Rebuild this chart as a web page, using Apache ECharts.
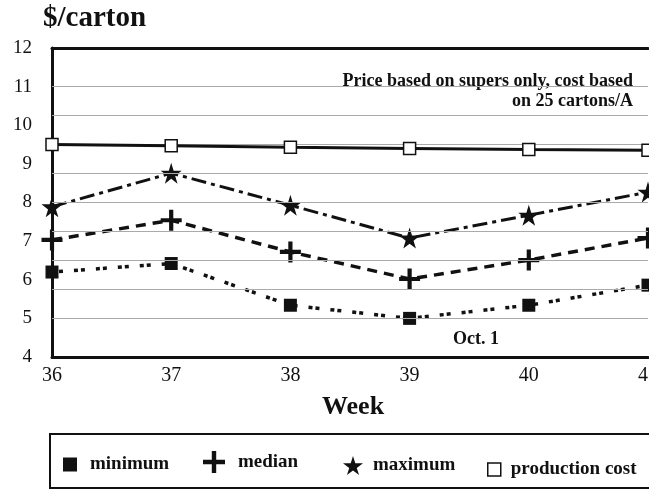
<!DOCTYPE html>
<html>
<head>
<meta charset="utf-8">
<script src="https://cdn.jsdelivr.net/npm/echarts@6/dist/echarts.min.js"></script>
<style>
html,body{margin:0;padding:0;background:#fff;}
#chart{width:649px;height:494px;}
</style>
</head>
<body>
<div id="chart"></div>
<script>
const weeks = ['36', '37', '38', '39', '40', '41'];
const minimum = [6.2, 6.42, 5.34, 5.0, 5.34, 5.86];
const median = [7.03, 7.54, 6.72, 6.02, 6.51, 7.08];
const maximum = [7.89, 8.76, 7.93, 7.08, 7.67, 8.27];
const productionCost = [9.5, 9.47, 9.43, 9.4, 9.37, 9.35];
const gridLevels = [5, 5.75, 6.5, 7.25, 8, 8.75, 9.5, 10.25, 11];
const yTicks = {min: 4, max: 12, interval: 1};

const SERIF = '"Liberation Serif", "Times New Roman", serif';
const INK = '#111';
const PLUS = 'path://M8,0h4v8h8v4h-8v8h-4v-8h-8v-4h8z';
const STAR = 'path://M50,0L61,35L98,35L68,57L79,91L50,70L21,91L32,57L2,35L39,35Z';

const chart = echarts.init(document.getElementById('chart'), null, {renderer: 'canvas'});

function legendFor(name, icon, left, top, w, h, pad, padTop, itemStyle) {
  return {
    data: [{name: name, icon: icon}],
    left: left, top: top, padding: 0,
    itemWidth: w, itemHeight: h,
    itemStyle: itemStyle,
    selectedMode: false,
    textStyle: {fontFamily: SERIF, fontWeight: 'bold', fontSize: 19, color: INK, padding: [padTop, 0, 0, pad]}
  };
}

const option = {
  backgroundColor: '#fff',
  animation: false,
  grid: {left: 52, right: 1, top: 48, bottom: 137, show: false, containLabel: false, outerBoundsMode: 'none'},
  xAxis: [{
    type: 'category', data: weeks, boundaryGap: false,
    axisLine: {show: true, lineStyle: {color: INK, width: 3}},
    axisTick: {show: false},
    splitLine: {show: false},
    axisLabel: {fontFamily: SERIF, fontSize: 20, color: INK, margin: 9}
  }, {
    type: 'category', data: weeks, boundaryGap: false, position: 'top',
    axisLine: {show: true, lineStyle: {color: INK, width: 3}},
    axisTick: {show: false}, axisLabel: {show: false}, splitLine: {show: false}
  }],
  yAxis: {
    type: 'value', min: yTicks.min, max: yTicks.max, interval: yTicks.interval,
    axisLine: {show: true, lineStyle: {color: INK, width: 3}},
    axisTick: {show: false},
    splitLine: {show: false},
    axisLabel: {fontFamily: SERIF, fontSize: 19, color: INK, margin: 20}
  },
  legend: [
    legendFor('minimum', 'rect', 63, 455, 14, 14, 8, 4, {color: INK}),
    legendFor('median', PLUS, 203, 451, 22, 22, 8, 7, {color: INK}),
    legendFor('maximum', STAR, 343, 456, 20, 20, 5, 7, {color: INK}),
    legendFor('production cost', 'rect', 487, 460, 13, 13, 5, 4, {color: '#fff', borderColor: INK, borderWidth: 1.5})
  ],
  graphic: [
    {type: 'text', left: 43, top: 4, style: {text: '$/carton', font: 'bold 29px ' + SERIF, fill: INK}},
    {type: 'text', left: 322, top: 394, style: {text: 'Week', font: 'bold 26px ' + SERIF, fill: INK}},
    {type: 'text', right: 16, top: 72, style: {text: 'Price based on supers only, cost based', font: 'bold 18px ' + SERIF, fill: INK}},
    {type: 'text', right: 16, top: 92, style: {text: 'on 25 cartons/A', font: 'bold 18px ' + SERIF, fill: INK}},
    {type: 'text', left: 453, top: 330, style: {text: 'Oct. 1', font: 'bold 18px ' + SERIF, fill: INK}},
    {type: 'rect', shape: {x: 50, y: 434, width: 640, height: 54}, style: {fill: 'none', stroke: INK, lineWidth: 2}}
  ],
  series: [
    {
      name: 'grid', type: 'line', data: [], silent: true, z: 1,
      markLine: {
        silent: true, symbol: 'none', label: {show: false},
        lineStyle: {color: '#aaa', width: 1, type: 'solid'},
        data: gridLevels.map(v => ({yAxis: v}))
      }
    },
    {
      name: 'production cost', type: 'line', data: productionCost, z: 5,
      symbol: 'rect', symbolSize: 12,
      lineStyle: {color: INK, width: 3, type: 'solid'},
      itemStyle: {color: '#fff', borderColor: INK, borderWidth: 1.5}
    },
    {
      name: 'maximum', type: 'line', data: maximum, z: 4,
      symbol: STAR, symbolSize: 21,
      lineStyle: {color: INK, width: 3, type: [15, 5, 4, 5]},
      itemStyle: {color: INK}
    },
    {
      name: 'median', type: 'line', data: median, z: 4,
      symbol: PLUS, symbolSize: 21,
      lineStyle: {color: INK, width: 3.5, type: [10, 7]},
      itemStyle: {color: INK}
    },
    {
      name: 'minimum', type: 'line', data: minimum, z: 4,
      symbol: 'rect', symbolSize: 13,
      lineStyle: {color: INK, width: 3.5, type: [4, 3, 4, 11]},
      itemStyle: {color: INK}
    }
  ]
};
chart.setOption(option);
</script>
</body>
</html>
